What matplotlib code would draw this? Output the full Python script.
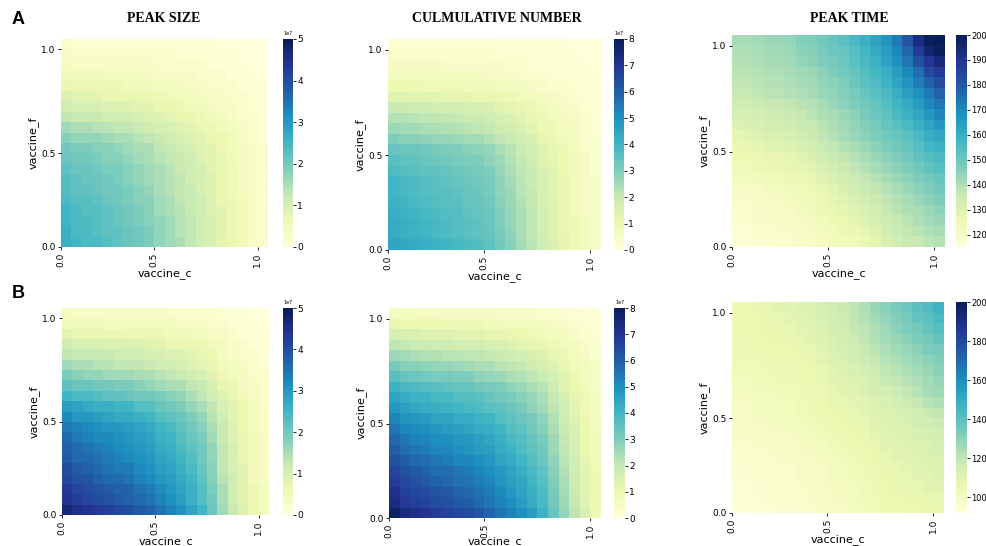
import numpy as np
import matplotlib
matplotlib.use("Agg")
import matplotlib.pyplot as plt

# grids: rows = vaccine_f (bottom -> top), cols = vaccine_c (left -> right)
tick_labels = ["0.0", "0.5", "1.0"]
titles = ["PEAK SIZE", "CULMULATIVE NUMBER", "PEAK TIME"]

# peak size, scenario A (x 1e6)
peak_size_a = [
    [26, 25, 24, 24, 23, 22, 21, 20, 19, 17, 16, 15, 13, 11, 10, 8, 7, 5, 3, 2],
    [26, 24, 24, 23, 22, 22, 21, 20, 19, 17, 16, 14, 13, 11, 10, 8, 6, 5, 3, 2],
    [25, 24, 24, 23, 22, 21, 20, 19, 18, 17, 16, 14, 13, 11, 10, 8, 6, 5, 3, 2],
    [25, 24, 23, 23, 22, 21, 20, 19, 18, 16, 15, 14, 12, 11, 9, 8, 6, 5, 3, 2],
    [24, 23, 23, 22, 21, 20, 19, 18, 18, 16, 15, 13, 12, 11, 9, 7, 6, 5, 3, 2],
    [23, 22, 22, 21, 20, 20, 19, 18, 17, 15, 14, 13, 12, 10, 9, 7, 6, 4, 3, 2],
    [23, 22, 21, 21, 20, 19, 18, 17, 16, 15, 14, 13, 11, 10, 9, 7, 6, 4, 3, 2],
    [22, 21, 21, 20, 19, 19, 18, 17, 16, 15, 14, 12, 11, 10, 8, 7, 6, 4, 3, 2],
    [21, 20, 20, 19, 18, 18, 17, 16, 15, 14, 13, 12, 11, 9, 8, 7, 5, 4, 3, 2],
    [20, 19, 19, 18, 18, 17, 16, 15, 15, 13, 12, 11, 10, 9, 8, 6, 5, 4, 3, 2],
    [18, 17, 17, 17, 16, 15, 15, 14, 13, 12, 11, 10, 9, 8, 7, 6, 5, 3, 2, 1],
    [16, 15, 15, 14, 14, 13, 13, 12, 11, 10, 10, 9, 8, 7, 6, 5, 4, 3, 2, 1],
    [13, 12, 12, 12, 11, 11, 11, 10, 9, 9, 8, 7, 7, 6, 5, 4, 3, 2, 2, 1],
    [11, 10, 10, 10, 9, 9, 9, 8, 8, 7, 7, 6, 5, 5, 4, 3, 3, 2, 1, 1],
    [9, 8, 8, 8, 7, 7, 7, 7, 6, 6, 5, 5, 4, 4, 3, 3, 2, 2, 1, 1],
    [7, 6, 6, 6, 6, 6, 5, 5, 5, 4, 4, 4, 3, 3, 2, 2, 2, 1, 1, 1],
    [5, 5, 5, 5, 4, 4, 4, 4, 4, 3, 3, 3, 3, 2, 2, 2, 1, 1, 1, 0],
    [4, 3, 3, 3, 3, 3, 3, 3, 3, 2, 2, 2, 2, 2, 1, 1, 1, 1, 0, 0],
    [3, 2, 2, 2, 2, 2, 2, 2, 2, 2, 2, 1, 1, 1, 1, 1, 1, 0, 0, 0],
    [2, 1, 1, 1, 1, 1, 1, 1, 1, 1, 1, 1, 1, 1, 1, 0, 0, 0, 0, 0],
]

# cumulative number, scenario A (x 1e6)
cumulative_a = [
    [45, 44, 43, 42, 41, 40, 39, 38, 37, 35, 32, 29, 25, 22, 18, 15, 12, 9, 6, 4],
    [43, 42, 41, 40, 39, 38, 37, 36, 35, 34, 31, 28, 24, 21, 17, 14, 12, 9, 6, 4],
    [43, 42, 41, 40, 39, 38, 37, 36, 35, 33, 30, 27, 24, 21, 17, 14, 11, 9, 6, 4],
    [42, 41, 40, 39, 38, 37, 37, 35, 34, 33, 30, 27, 24, 21, 17, 14, 11, 8, 5, 4],
    [41, 40, 39, 38, 37, 36, 36, 34, 34, 32, 29, 26, 23, 20, 16, 14, 11, 8, 5, 4],
    [40, 39, 38, 37, 36, 36, 35, 34, 33, 31, 28, 26, 22, 20, 16, 13, 11, 8, 5, 4],
    [40, 39, 38, 37, 36, 35, 34, 33, 32, 31, 28, 25, 22, 19, 16, 13, 11, 8, 5, 4],
    [38, 37, 36, 35, 35, 34, 33, 32, 31, 30, 27, 24, 21, 19, 15, 13, 10, 8, 5, 3],
    [36, 35, 35, 33, 33, 32, 31, 30, 30, 28, 26, 23, 20, 18, 14, 12, 10, 7, 5, 3],
    [34, 33, 33, 32, 31, 30, 30, 29, 28, 27, 24, 22, 19, 17, 14, 11, 9, 7, 4, 3],
    [30, 29, 29, 28, 27, 27, 26, 25, 25, 23, 21, 19, 17, 15, 12, 10, 8, 6, 4, 3],
    [26, 25, 25, 24, 24, 23, 23, 22, 21, 20, 18, 17, 15, 13, 10, 9, 7, 5, 3, 2],
    [23, 23, 22, 21, 21, 20, 20, 19, 19, 18, 16, 15, 13, 11, 9, 8, 6, 5, 3, 2],
    [19, 19, 18, 18, 17, 17, 17, 16, 16, 15, 13, 12, 11, 9, 8, 6, 5, 4, 2, 2],
    [14, 14, 13, 13, 13, 12, 12, 12, 11, 11, 10, 9, 8, 7, 6, 5, 4, 3, 2, 1],
    [10, 10, 10, 9, 9, 9, 9, 8, 8, 8, 7, 6, 6, 5, 4, 3, 3, 2, 1, 1],
    [7, 7, 7, 7, 6, 6, 6, 6, 6, 5, 5, 4, 4, 3, 3, 2, 2, 1, 1, 1],
    [5, 5, 5, 5, 5, 4, 4, 4, 4, 4, 4, 3, 3, 2, 2, 2, 1, 1, 1, 0],
    [4, 3, 3, 3, 3, 3, 3, 3, 3, 3, 2, 2, 2, 2, 1, 1, 1, 1, 0, 0],
    [2, 2, 2, 2, 2, 2, 2, 2, 2, 2, 1, 1, 1, 1, 1, 1, 1, 0, 0, 0],
]

# peak time, scenario A (days)
peak_time_a = [
    [116, 116, 117, 117, 118, 118, 119, 120, 121, 122, 123, 124, 126, 128, 131, 133, 135, 136, 138, 139],
    [117, 117, 118, 118, 119, 119, 120, 121, 122, 123, 125, 126, 128, 130, 133, 135, 137, 138, 140, 141],
    [118, 118, 119, 119, 120, 120, 121, 122, 123, 125, 126, 128, 130, 132, 134, 136, 138, 140, 142, 143],
    [118, 118, 119, 120, 120, 121, 122, 123, 125, 126, 128, 129, 131, 133, 136, 138, 140, 141, 143, 145],
    [119, 119, 120, 121, 121, 122, 123, 124, 126, 128, 129, 131, 133, 135, 137, 139, 141, 143, 145, 147],
    [120, 120, 121, 122, 122, 123, 124, 125, 127, 129, 131, 133, 135, 137, 139, 141, 143, 145, 147, 149],
    [122, 122, 123, 124, 124, 125, 126, 127, 129, 131, 133, 135, 137, 139, 141, 143, 145, 147, 149, 151],
    [123, 124, 125, 126, 126, 127, 128, 129, 131, 133, 135, 137, 139, 141, 143, 145, 147, 149, 152, 154],
    [125, 125, 126, 127, 127, 128, 129, 131, 133, 135, 137, 139, 141, 143, 145, 147, 149, 152, 154, 156],
    [126, 127, 128, 129, 129, 130, 131, 133, 135, 137, 139, 141, 143, 145, 147, 149, 151, 154, 157, 159],
    [128, 129, 130, 131, 131, 132, 133, 135, 137, 139, 141, 143, 145, 147, 149, 151, 153, 156, 160, 162],
    [130, 131, 132, 133, 133, 134, 135, 136, 138, 140, 142, 144, 146, 148, 151, 153, 156, 159, 163, 166],
    [132, 132, 133, 134, 134, 135, 136, 138, 140, 141, 143, 145, 148, 150, 152, 156, 159, 162, 166, 170],
    [134, 134, 135, 136, 136, 137, 138, 139, 141, 143, 145, 147, 149, 151, 154, 158, 161, 165, 170, 174],
    [136, 136, 137, 138, 138, 139, 140, 141, 143, 144, 146, 148, 151, 153, 156, 160, 164, 168, 173, 178],
    [137, 137, 138, 139, 139, 140, 141, 142, 144, 145, 147, 150, 153, 155, 158, 163, 167, 172, 178, 183],
    [138, 138, 139, 140, 140, 141, 142, 143, 145, 147, 149, 151, 154, 157, 160, 165, 170, 176, 184, 188],
    [139, 139, 140, 141, 141, 142, 144, 145, 147, 148, 150, 153, 156, 159, 163, 168, 174, 182, 189, 194],
    [140, 140, 141, 142, 142, 143, 145, 146, 148, 150, 151, 154, 157, 161, 165, 170, 177, 188, 196, 199],
    [141, 141, 142, 143, 143, 144, 146, 147, 149, 151, 153, 156, 159, 163, 167, 173, 181, 193, 199, 200],
]

# peak size, scenario B (x 1e6)
peak_size_b = [
    [47, 45, 44, 43, 42, 41, 40, 38, 37, 35, 33, 31, 28, 25, 21, 16, 12, 9, 6, 4],
    [44, 42, 41, 40, 39, 38, 37, 36, 35, 33, 31, 29, 26, 23, 20, 15, 11, 8, 6, 4],
    [43, 41, 40, 39, 38, 37, 37, 35, 34, 32, 30, 28, 26, 23, 19, 15, 11, 8, 6, 4],
    [41, 39, 39, 37, 36, 36, 35, 33, 32, 30, 29, 27, 25, 22, 18, 14, 11, 8, 5, 3],
    [40, 38, 37, 36, 35, 34, 34, 32, 31, 29, 28, 26, 24, 21, 18, 13, 10, 8, 5, 3],
    [38, 36, 36, 35, 34, 33, 32, 31, 30, 28, 27, 25, 23, 20, 17, 13, 10, 7, 5, 3],
    [37, 36, 35, 34, 33, 32, 31, 30, 29, 27, 26, 24, 22, 20, 17, 13, 10, 7, 5, 3],
    [36, 34, 33, 32, 32, 31, 30, 29, 28, 26, 25, 23, 21, 19, 16, 12, 9, 7, 5, 3],
    [34, 33, 32, 31, 30, 30, 29, 28, 27, 25, 24, 22, 20, 18, 15, 12, 9, 6, 4, 3],
    [32, 30, 30, 29, 28, 27, 27, 26, 25, 23, 22, 21, 19, 17, 14, 11, 8, 6, 4, 3],
    [29, 28, 27, 26, 26, 25, 25, 23, 23, 21, 20, 19, 17, 15, 13, 10, 8, 6, 4, 2],
    [25, 24, 24, 23, 22, 22, 21, 20, 20, 19, 18, 17, 15, 13, 11, 9, 7, 5, 3, 2],
    [22, 21, 21, 20, 20, 19, 19, 18, 17, 16, 15, 15, 13, 12, 10, 7, 6, 4, 3, 2],
    [19, 18, 17, 17, 16, 16, 16, 15, 15, 14, 13, 12, 11, 10, 8, 6, 5, 4, 2, 2],
    [16, 15, 15, 14, 14, 13, 13, 13, 12, 11, 11, 10, 9, 8, 7, 5, 4, 3, 2, 1],
    [13, 12, 12, 12, 12, 11, 11, 11, 10, 10, 9, 9, 8, 7, 6, 4, 3, 2, 2, 1],
    [11, 10, 10, 10, 9, 9, 9, 9, 8, 8, 7, 7, 6, 6, 5, 4, 3, 2, 1, 1],
    [8, 7, 7, 7, 7, 7, 6, 6, 6, 6, 5, 5, 5, 4, 3, 3, 2, 1, 1, 1],
    [5, 5, 5, 5, 4, 4, 4, 4, 4, 4, 4, 3, 3, 3, 2, 2, 1, 1, 1, 0],
    [4, 3, 3, 3, 3, 3, 3, 3, 3, 3, 2, 2, 2, 2, 2, 1, 1, 1, 0, 0],
]

# cumulative number, scenario B (x 1e6)
cumulative_b = [
    [78, 74, 72, 70, 68, 67, 65, 64, 62, 59, 56, 53, 50, 46, 41, 34, 27, 21, 15, 10],
    [73, 69, 67, 66, 64, 63, 61, 60, 58, 55, 53, 50, 47, 43, 39, 32, 26, 20, 14, 9],
    [71, 67, 65, 64, 62, 61, 59, 58, 56, 54, 51, 48, 45, 42, 38, 31, 25, 19, 13, 9],
    [68, 65, 63, 61, 59, 58, 56, 56, 54, 52, 49, 46, 44, 40, 36, 30, 24, 18, 13, 9],
    [66, 63, 61, 59, 57, 57, 55, 54, 52, 50, 48, 45, 42, 39, 35, 29, 23, 18, 13, 9],
    [63, 60, 58, 57, 55, 54, 52, 52, 50, 48, 45, 43, 40, 37, 33, 28, 22, 17, 12, 8],
    [60, 57, 55, 54, 52, 52, 50, 49, 47, 46, 43, 41, 38, 35, 32, 26, 21, 16, 11, 8],
    [58, 55, 53, 52, 50, 50, 48, 48, 46, 44, 42, 39, 37, 34, 31, 26, 20, 16, 11, 8],
    [55, 52, 51, 50, 48, 47, 46, 45, 43, 42, 40, 37, 35, 32, 29, 24, 19, 15, 10, 7],
    [52, 49, 48, 47, 45, 45, 43, 43, 41, 40, 37, 35, 33, 31, 28, 23, 18, 14, 10, 7],
    [48, 46, 44, 43, 42, 41, 40, 39, 38, 36, 35, 33, 31, 28, 25, 21, 17, 13, 9, 6],
    [45, 43, 41, 41, 39, 39, 37, 37, 36, 34, 32, 31, 29, 27, 24, 20, 16, 12, 9, 6],
    [41, 39, 38, 37, 36, 35, 34, 34, 32, 31, 30, 28, 26, 24, 22, 18, 14, 11, 8, 5],
    [36, 34, 33, 32, 31, 31, 30, 30, 28, 27, 26, 24, 23, 21, 19, 16, 13, 10, 7, 5],
    [31, 29, 29, 28, 27, 27, 26, 25, 24, 24, 22, 21, 20, 18, 16, 14, 11, 8, 6, 4],
    [26, 25, 24, 23, 23, 22, 22, 21, 21, 20, 19, 18, 17, 15, 14, 11, 9, 7, 5, 3],
    [21, 20, 19, 19, 18, 18, 17, 17, 17, 16, 15, 14, 13, 12, 11, 9, 7, 6, 4, 3],
    [16, 15, 15, 14, 14, 14, 13, 13, 13, 12, 12, 11, 10, 9, 8, 7, 6, 4, 3, 2],
    [11, 10, 10, 10, 10, 9, 9, 9, 9, 8, 8, 7, 7, 6, 6, 5, 4, 3, 2, 1],
    [6, 6, 6, 5, 5, 5, 5, 5, 5, 5, 4, 4, 4, 4, 3, 3, 2, 2, 1, 1],
]

# peak time, scenario B (days)
peak_time_b = [
    [93, 93, 94, 94, 95, 95, 96, 97, 98, 99, 100, 101, 102, 103, 105, 105, 106, 106, 107, 107],
    [94, 94, 95, 95, 96, 96, 97, 98, 99, 100, 101, 102, 103, 104, 106, 106, 107, 107, 108, 108],
    [94, 94, 95, 95, 96, 96, 97, 98, 99, 100, 101, 102, 103, 105, 106, 107, 108, 108, 109, 109],
    [95, 95, 96, 96, 97, 97, 98, 99, 100, 101, 102, 103, 104, 105, 107, 107, 108, 109, 110, 111],
    [95, 95, 96, 96, 97, 97, 98, 99, 100, 101, 102, 103, 104, 106, 107, 108, 109, 110, 111, 112],
    [96, 96, 97, 97, 98, 98, 99, 100, 101, 102, 103, 104, 105, 107, 108, 109, 110, 111, 112, 113],
    [97, 97, 98, 98, 99, 99, 100, 101, 102, 103, 104, 105, 106, 108, 109, 110, 111, 112, 113, 114],
    [98, 98, 99, 99, 100, 100, 101, 102, 103, 104, 105, 106, 107, 109, 110, 111, 112, 113, 114, 115],
    [99, 99, 100, 100, 101, 101, 102, 103, 104, 105, 106, 107, 108, 110, 111, 112, 113, 115, 116, 117],
    [100, 100, 101, 101, 102, 102, 103, 104, 105, 106, 107, 108, 109, 111, 112, 113, 114, 116, 118, 120],
    [100, 100, 101, 101, 102, 102, 103, 104, 105, 107, 108, 109, 110, 112, 113, 115, 117, 119, 122, 124],
    [101, 101, 102, 102, 103, 103, 104, 105, 106, 108, 109, 110, 112, 114, 115, 117, 120, 122, 125, 127],
    [102, 102, 103, 103, 104, 104, 105, 106, 107, 109, 110, 112, 113, 115, 118, 120, 122, 124, 126, 128],
    [103, 103, 103, 104, 104, 104, 105, 106, 108, 110, 112, 113, 115, 117, 120, 122, 124, 126, 128, 130],
    [104, 104, 104, 105, 105, 105, 106, 107, 109, 111, 113, 115, 117, 119, 122, 124, 126, 128, 130, 132],
    [104, 104, 105, 106, 106, 106, 107, 108, 110, 112, 114, 116, 118, 121, 124, 126, 128, 130, 133, 135],
    [104, 105, 105, 106, 107, 107, 108, 109, 111, 113, 115, 117, 120, 123, 126, 128, 130, 133, 135, 138],
    [105, 105, 106, 107, 107, 108, 109, 110, 112, 114, 116, 119, 121, 124, 127, 130, 133, 135, 138, 141],
    [105, 106, 106, 107, 108, 109, 110, 111, 113, 115, 117, 120, 123, 126, 129, 132, 135, 138, 140, 144],
    [105, 106, 107, 108, 109, 110, 111, 112, 114, 116, 118, 121, 124, 128, 131, 134, 137, 140, 143, 147],
]

W, H = 987, 546


def rect(x0, y0, x1, y1):
    # pixel box (top-left origin) -> figure fraction
    return [x0 / W, 1 - y1 / H, (x1 - x0) / W, (y1 - y0) / H]


def heat(fig, box, cbox, data, scale, vmin, vmax, cticks, cfont=6.5, xpad=1):
    ax = fig.add_axes(rect(*box))
    cax = fig.add_axes(rect(*cbox))
    z = np.array(data, dtype=float) * scale
    n = z.shape[0]
    mesh = ax.pcolormesh(np.arange(n + 1), np.arange(n + 1), z,
                         cmap="YlGnBu", vmin=vmin, vmax=vmax)
    ax.set_xlim(0, n)
    ax.set_ylim(0, n)
    ax.set_xticks([0, 9, 19])
    ax.set_xticklabels(tick_labels, rotation=90)
    ax.set_yticks([0, 9, 19])
    ax.set_yticklabels(tick_labels)
    ax.tick_params(labelsize=6.5, length=2.5, width=0.6, pad=1.5)
    for s in ax.spines.values():
        s.set_visible(False)
    ax.set_xlabel("vaccine_c", fontsize=8, labelpad=xpad)
    ax.set_ylabel("vaccine_f", fontsize=8, labelpad=2)
    cb = fig.colorbar(mesh, cax=cax)
    cb.outline.set_visible(False)
    cb.set_ticks(cticks)
    cax.tick_params(labelsize=cfont, length=2, width=0.6, pad=1)
    cax.yaxis.get_offset_text().set_fontsize(3.5)
    return ax


fig = plt.figure(figsize=(W / 100, H / 100), dpi=100)

# row A
heat(fig, (61, 39, 268, 247), (283, 39, 293, 247), peak_size_a, 1e6, 0, 5e7,
     [0, 1e7, 2e7, 3e7, 4e7, 5e7])
heat(fig, (388, 39, 601, 250), (614, 39, 624, 250), cumulative_a, 1e6, 0, 8e7,
     [i * 1e7 for i in range(9)])
heat(fig, (732, 35, 945, 247), (956, 35, 967, 247), peak_time_a, 1, 115, 200,
     list(range(120, 201, 10)), cfont=6)

# row B
heat(fig, (62, 308, 269, 515), (283, 308, 293, 515), peak_size_b, 1e6, 0, 5e7,
     [0, 1e7, 2e7, 3e7, 4e7, 5e7])
heat(fig, (389, 308, 601, 518), (614, 308, 625, 518), cumulative_b, 1e6, 0, 8e7,
     [i * 1e7 for i in range(9)], xpad=-1)
heat(fig, (732, 302, 944, 513), (956, 302, 967, 513), peak_time_b, 1, 92, 200,
     list(range(100, 201, 20)), cfont=6)

# column titles and panel letters
for xc, t in zip([164, 497, 849], titles):
    fig.text(xc / W, 1 - 19 / H, t, ha="center", va="center",
             fontsize=10, fontweight="bold", family="Liberation Serif")
fig.text(18 / W, 1 - 19 / H, "A", ha="center", va="center",
         fontsize=13, fontweight="bold", family="Liberation Sans")
fig.text(18 / W, 1 - 293 / H, "B", ha="center", va="center",
         fontsize=13, fontweight="bold", family="Liberation Sans")

fig.savefig("out.png", dpi=100)
plt.close(fig)
